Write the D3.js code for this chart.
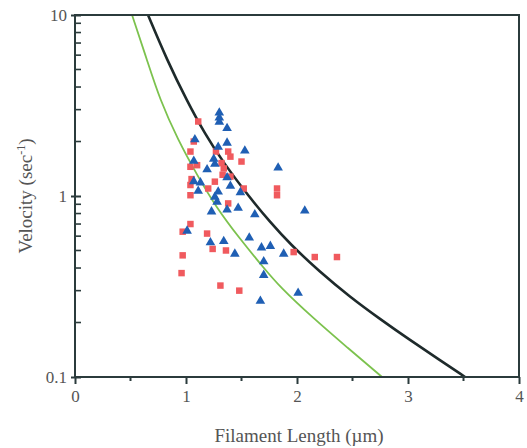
<!DOCTYPE html>
<html>
<head>
<meta charset="utf-8">
<script src="https://cdn.jsdelivr.net/npm/d3@7"></script>
<style>
  body { margin: 0; background: #fff; }
</style>
</head>
<body>
<div id="chart"></div>
<script>
// Filament length (µm) vs velocity (sec^-1)
const redSquares = [
  [1.11, 2.58], [1.07, 2.0], [1.04, 1.76], [1.27, 1.76], [1.38, 1.76], [1.40, 1.65],
  [1.50, 1.55], [1.10, 1.48], [1.04, 1.45], [1.34, 1.42], [1.32, 1.52], [1.33, 1.31],
  [1.05, 1.24], [1.26, 1.20], [1.40, 1.28], [1.52, 1.10], [1.20, 1.10], [1.04, 1.15],
  [1.04, 1.01], [1.82, 1.10], [1.82, 1.01], [1.38, 0.91], [1.04, 0.70], [0.97, 0.635],
  [1.19, 0.62], [1.24, 0.51], [1.36, 0.50], [0.97, 0.47], [0.96, 0.375], [1.31, 0.32],
  [1.48, 0.30], [1.97, 0.49], [2.16, 0.46], [2.36, 0.46]
];
const blueTriangles = [
  [1.30, 2.92], [1.30, 2.74], [1.30, 2.60], [1.37, 2.40], [1.08, 2.08], [1.29, 1.89],
  [1.37, 1.99], [1.53, 1.80], [1.25, 1.62], [1.19, 1.42], [1.26, 1.52], [1.83, 1.45],
  [1.07, 1.58], [1.13, 1.20], [1.07, 1.22], [1.40, 1.15], [1.49, 1.06], [1.11, 1.08],
  [1.26, 1.00], [1.28, 0.94], [1.23, 0.83], [1.37, 0.85], [1.47, 0.87], [1.62, 0.80],
  [2.07, 0.84], [1.01, 0.65], [1.22, 0.56], [1.34, 0.57], [1.57, 0.595], [1.68, 0.525],
  [1.76, 0.535], [1.88, 0.485], [1.44, 0.485], [1.70, 0.44], [1.70, 0.37], [2.01, 0.295],
  [1.67, 0.266], [1.37, 1.28], [1.29, 1.07]
];
// curves
const blackCurve = [
  [0.658, 10], [0.829, 5.64], [1.009, 3.35], [1.171, 2.20], [1.333, 1.54], [1.577, 0.975],
  [1.757, 0.718], [1.937, 0.543], [2.207, 0.380], [2.477, 0.277], [2.748, 0.209],
  [3.018, 0.160], [3.288, 0.124], [3.514, 0.1]
];
const greenCurve = [
  [0.514, 10], [0.649, 5.64], [0.766, 3.39], [0.928, 2.04], [1.099, 1.31], [1.270, 0.87],
  [1.486, 0.579], [1.694, 0.405], [1.847, 0.314], [2.144, 0.212], [2.450, 0.146], [2.766, 0.1]
];
const xTicks = [0, 1, 2, 3, 4];
const xMinorTicks = [0.5, 1.5, 2.5, 3.5];
const yTicks = [0.1, 1, 10];
const yTickLabels = ["0.1", "1", "10"];
const yMinorTicks = [0.2, 0.3, 0.4, 0.5, 0.6, 0.7, 0.8, 0.9, 2, 3, 4, 5, 6, 7, 8, 9];

const width = 527, height = 448;
const margin = { top: 15, right: 8, bottom: 71, left: 75 };
const axisColor = "#2b3b3c";
const serif = "'Liberation Serif', 'Times New Roman', 'DejaVu Serif', serif";

const svg = d3.select("#chart").append("svg")
  .attr("width", width).attr("height", height);

const x = d3.scaleLinear().domain([0, 4]).range([margin.left, width - margin.right]);
const y = d3.scaleLog().domain([0.1, 10]).range([height - margin.bottom, margin.top]);

const plot = svg.append("g");

// curves
const line = d3.line().x(d => x(d[0])).y(d => y(d[1])).curve(d3.curveBasis);
plot.append("path").datum(greenCurve)
  .attr("fill", "none").attr("stroke", "#7cc24e").attr("stroke-width", 1.8).attr("d", line);
plot.append("path").datum(blackCurve)
  .attr("fill", "none").attr("stroke", "#1e2a2b").attr("stroke-width", 2.6).attr("d", line);

// markers
plot.selectAll(".sq").data(redSquares).join("path")
  .attr("class", "sq")
  .attr("transform", d => `translate(${x(d[0])},${y(d[1])})`)
  .attr("d", d3.symbol(d3.symbolSquare, 42))
  .attr("fill", "#f05a5e");
plot.selectAll(".tri").data(blueTriangles).join("path")
  .attr("class", "tri")
  .attr("transform", d => `translate(${x(d[0])},${y(d[1]) + 1})`)
  .attr("d", d3.symbol(d3.symbolTriangle, 40))
  .attr("fill", "#1f5fb4");

// frame
svg.append("rect")
  .attr("x", x(0)).attr("y", y(10))
  .attr("width", x(4) - x(0)).attr("height", y(0.1) - y(10))
  .attr("fill", "none").attr("stroke", axisColor).attr("stroke-width", 2);

// x axis (ticks outward)
const xAxis = svg.append("g").attr("transform", `translate(0,${y(0.1)})`)
  .call(d3.axisBottom(x).tickValues(xTicks).tickSize(7).tickPadding(6).tickFormat(d3.format("d")));
xAxis.select(".domain").remove();
xAxis.selectAll("line").attr("stroke", axisColor).attr("stroke-width", 2);
xAxis.selectAll("text").attr("font-size", 17).attr("font-family", serif).attr("fill", "#555");
svg.append("g").selectAll("line").data(xMinorTicks).join("line")
  .attr("x1", d => x(d)).attr("x2", d => x(d))
  .attr("y1", y(0.1)).attr("y2", y(0.1) + 4)
  .attr("stroke", axisColor).attr("stroke-width", 2);

// y axis (ticks inward, majors cross)
const yAxis = svg.append("g").attr("transform", `translate(${x(0)},0)`)
  .call(d3.axisLeft(y).tickValues(yTicks).tickSize(4).tickPadding(4)
    .tickFormat((d, i) => yTickLabels[i]));
yAxis.select(".domain").remove();
yAxis.selectAll("line").attr("stroke", axisColor).attr("stroke-width", 2).attr("x2", 6).attr("x1", -4);
yAxis.selectAll("text").attr("font-size", 17).attr("font-family", serif).attr("fill", "#555");
svg.append("g").selectAll("line").data(yMinorTicks).join("line")
  .attr("x1", x(0)).attr("x2", x(0) + 6)
  .attr("y1", d => y(d)).attr("y2", d => y(d))
  .attr("stroke", axisColor).attr("stroke-width", 1.6);

// titles
svg.append("text")
  .attr("x", 299).attr("y", 442)
  .attr("text-anchor", "middle").attr("font-size", 19)
  .attr("font-family", serif).attr("fill", "#555")
  .text("Filament Length (µm)");
const yTitle = svg.append("text")
  .attr("transform", `translate(32,${(y(10) + y(0.1)) / 2}) rotate(-90)`)
  .attr("text-anchor", "middle").attr("font-size", 19)
  .attr("font-family", serif).attr("fill", "#555");
yTitle.append("tspan").text("Velocity (sec");
yTitle.append("tspan").attr("dy", -7).attr("font-size", 12).text("-1");
yTitle.append("tspan").attr("dy", 7).text(")");
</script>
</body>
</html>
